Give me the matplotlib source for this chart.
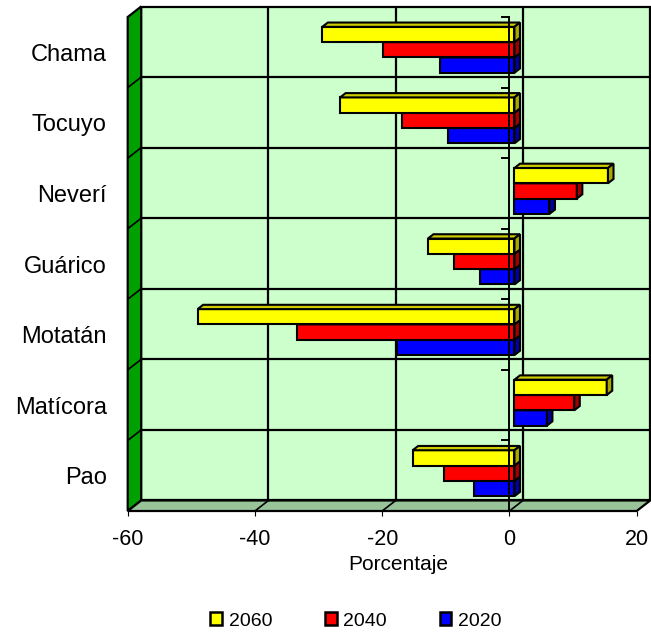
import matplotlib
matplotlib.use("Agg")
import matplotlib.pyplot as plt
from matplotlib.patches import Polygon, Patch

plt.rcParams["font.family"] = ["Liberation Sans", "DejaVu Sans"]

# Data: change in percent per basin and horizon year
categories = ["Pao", "Matícora", "Motatán", "Guárico", "Neverí", "Tocuyo", "Chama"]
v2060 = [-16.0, 14.5, -49.8, -13.6, 14.7, -27.4, -30.2]
v2040 = [-11.0, 9.4, -34.1, -9.5, 9.8, -17.7, -20.7]
v2020 = [-6.3, 5.1, -18.5, -5.4, 5.5, -10.4, -11.7]
series_names = ["2060", "2040", "2020"]
xticks = [-60, -40, -20, 0, 20]

# Styling
front_colors = ["#FFFF00", "#FF0000", "#0000FF"]
top_colors = ["#CCCC00", "#C80000", "#0000C8"]
side_colors = ["#A8A800", "#A00000", "#0000A0"]
wall_color = "#CCFFCC"
side_wall_color = "#00A000"
floor_color = "#99C399"

XMIN, XMAX = -60, 20
NCAT = len(categories)
DX, DY = 2.12, 0.149          # oblique depth offset (value units, category units)
D0, D1 = 0.37, 0.78           # depth range occupied by the bars
BAR_H = 0.217
BAR_SHIFT = -0.02
LW = 1.5

W, H = 651, 637
fig = plt.figure(figsize=(W / 100, H / 100), dpi=100)
left_px, right_px = 127.7, 650.2
bottom_px, top_px = 511.0, 6.5
ax = fig.add_axes([left_px / W, 1 - bottom_px / H,
                   (right_px - left_px) / W, (bottom_px - top_px) / H])
ax.set_xlim(XMIN, XMAX + DX)
ax.set_ylim(0, NCAT + DY)
for s in ax.spines.values():
    s.set_visible(False)


def poly(pts, fc, z, lw=LW, ec="black"):
    ax.add_patch(Polygon(pts, closed=True, facecolor=fc, edgecolor=ec,
                         linewidth=lw, zorder=z, joinstyle="miter", clip_on=False))


# Walls and floor
poly([(XMIN + DX, DY), (XMAX + DX, DY), (XMAX + DX, NCAT + DY), (XMIN + DX, NCAT + DY)],
     wall_color, 0.5, lw=1.6)
poly([(XMIN, 0), (XMIN + DX, DY), (XMIN + DX, NCAT + DY), (XMIN, NCAT)],
     side_wall_color, 0.6, lw=1.6)
poly([(XMIN, 0), (XMAX, 0), (XMAX + DX, DY), (XMIN + DX, DY)],
     floor_color, 0.6, lw=1.6)

# Gridlines on back wall, floor and side wall
for v in xticks[1:-1]:
    ax.plot([v + DX, v + DX], [DY, NCAT + DY], color="black", lw=1.6, zorder=0.7)
    ax.plot([v, v + DX], [0, DY], color="black", lw=1.2, zorder=0.7)
for i in range(1, NCAT):
    ax.plot([XMIN + DX, XMAX + DX], [i + DY, i + DY], color="black", lw=1.6, zorder=0.7)
    ax.plot([XMIN, XMIN + DX], [i, i + DY], color="black", lw=1.2, zorder=0.7)

# 3D bars: 2060 on top, 2020 at the bottom of each group.
# Lower series are drawn first so the bar above hides their top faces.
series = [v2060, v2040, v2020]
for k in [2, 1, 0]:
    vals = series[k]
    z = 3 + (2 - k)
    ybase = [i + 0.5 + BAR_SHIFT + (0.5 - k) * BAR_H for i in range(NCAT)]
    # front faces
    ax.barh([y + D0 * DY for y in ybase], vals, left=D0 * DX, height=BAR_H,
            align="edge", color=front_colors[k], edgecolor="black",
            linewidth=LW, zorder=z)
    for yb, v in zip(ybase, vals):
        a, b = min(0, v), max(0, v)
        yt = yb + BAR_H
        poly([(a + D0 * DX, yt + D0 * DY), (b + D0 * DX, yt + D0 * DY),
              (b + D1 * DX, yt + D1 * DY), (a + D1 * DX, yt + D1 * DY)],
             top_colors[k], z)
        poly([(b + D0 * DX, yb + D0 * DY), (b + D1 * DX, yb + D1 * DY),
              (b + D1 * DX, yt + D1 * DY), (b + D0 * DX, yt + D0 * DY)],
             side_colors[k], z)

# Category axis crossing at zero, with tick marks at category boundaries
ax.plot([0, 0], [0, NCAT], color="black", lw=1.4, zorder=10, clip_on=False)
for i in range(NCAT + 1):
    ax.plot([-1.2, -0.1], [i, i], color="black", lw=1.4, zorder=10, clip_on=False)

# Value axis ticks along the front edge
ax.set_xticks(xticks)
ax.set_xticklabels([str(t) for t in xticks], fontsize=15.5)
ax.tick_params(axis="x", direction="out", length=3.5, width=0.8, pad=9.5, colors="black")
ax.set_xlabel("Porcentaje", fontsize=15)
ax.xaxis.set_label_coords((398 - left_px) / (right_px - left_px), -0.088)

ax.set_yticks([i + 0.5 for i in range(NCAT)])
ax.set_yticklabels(categories, fontsize=17)
ax.tick_params(axis="y", length=0, pad=15)

handles = [Patch(facecolor=front_colors[k], edgecolor="black", linewidth=1.8,
                 label=series_names[k]) for k in range(3)]
fig.legend(handles=handles, loc="center", bbox_to_anchor=(356 / W, 1 - 621 / H),
           ncol=3, frameon=False, fontsize=14, handlelength=0.6, handleheight=0.6,
           handletextpad=0.35, columnspacing=2.7)

fig.savefig("out.png", dpi=100)
